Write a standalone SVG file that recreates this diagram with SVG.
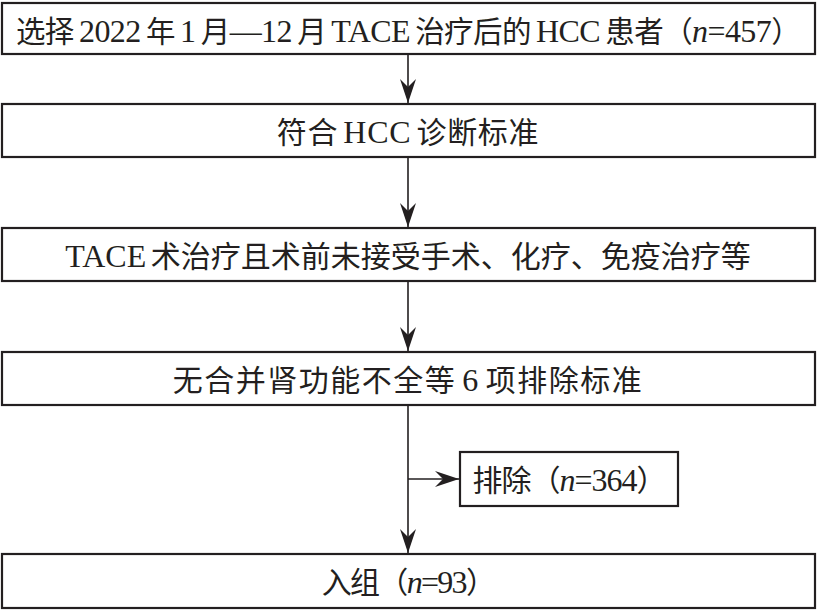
<svg xmlns="http://www.w3.org/2000/svg" width="817" height="610" viewBox="0 0 817 610">
<defs>
<style>
.box{fill:#fff;stroke:#231f20;stroke-width:2.2}
.t{font-family:"Liberation Serif","Noto Sans CJK SC",serif;font-size:30px;fill:#231f20;text-anchor:middle;word-spacing:-3px}
.l{font-size:32px}
.i{font-style:italic}
.c{stroke:#231f20;stroke-width:1.6;fill:none;marker-end:url(#ah)}
</style>
<marker id="ah" markerUnits="userSpaceOnUse" markerWidth="24" markerHeight="16" refX="24" refY="8" orient="auto" viewBox="0 0 24 16">
<path d="M0,0 L24,8 L0,16 L8,8 Z" fill="#231f20"/>
</marker>
</defs>
<rect width="817" height="610" fill="#fff"/>
<g id="connectors">
<line class="c" x1="408" y1="54" x2="408" y2="103"/>
<line class="c" x1="408" y1="157" x2="408" y2="227"/>
<line class="c" x1="408" y1="281" x2="408" y2="351"/>
<line class="c" x1="408" y1="405" x2="408" y2="553"/>
<line class="c" x1="408" y1="479" x2="459" y2="479"/>
</g>
<g id="n1">
<rect class="box" x="2" y="3" width="813" height="51"/>
<text class="t" x="408" y="42" style="font-size:29.5px;word-spacing:-1.5px" letter-spacing="-0.6">选择 <tspan class="l">2022</tspan> 年 <tspan class="l">1</tspan> 月<tspan class="l">—12</tspan> 月 <tspan class="l">TACE</tspan> 治疗后的 <tspan class="l">HCC</tspan> 患者（<tspan class="l i">n</tspan><tspan class="l">=457</tspan>）</text>
</g>
<g id="n2">
<rect class="box" x="2" y="104" width="813" height="53"/>
<text class="t" x="408" y="143" letter-spacing="0.7">符合 <tspan class="l">HCC</tspan> 诊断标准</text>
</g>
<g id="n3">
<rect class="box" x="2" y="228" width="813" height="53"/>
<text class="t" x="408" y="267"><tspan class="l">TACE</tspan> 术治疗且术前未接受手术、化疗、免疫治疗等</text>
</g>
<g id="n4">
<rect class="box" x="2" y="352" width="813" height="53"/>
<text class="t" x="408" y="391" letter-spacing="1.5">无合并肾功能不全等 <tspan class="l">6</tspan> 项排除标准</text>
</g>
<g id="n5">
<rect class="box" x="460" y="452" width="218" height="54"/>
<text class="t" x="569" y="491" letter-spacing="-1">排除（<tspan class="l i">n</tspan><tspan class="l">=364</tspan>）</text>
</g>
<g id="n6">
<rect class="box" x="2" y="554" width="813" height="54"/>
<text class="t" x="408" y="593" letter-spacing="-1.7">入组（<tspan class="l i">n</tspan><tspan class="l">=93</tspan>）</text>
</g>
</svg>
